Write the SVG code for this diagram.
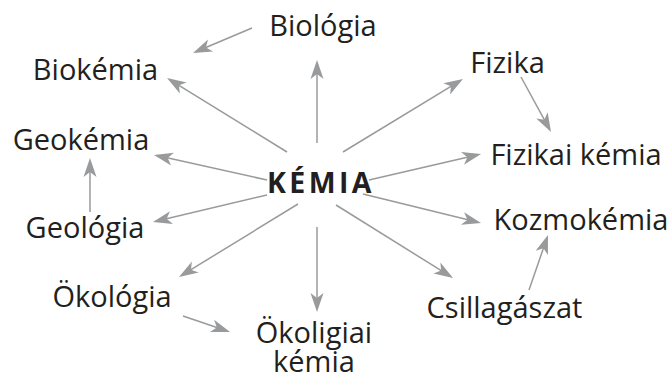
<svg xmlns="http://www.w3.org/2000/svg" width="672" height="380" viewBox="0 0 672 380">
<defs>
<marker id="ah" markerUnits="userSpaceOnUse" viewBox="-22 -8 24 16" markerWidth="24" markerHeight="16" refX="-3" refY="0" orient="auto">
<path d="M0,0 L-19,-6.5 L-14,0 L-19,6.5 Z" fill="#999a9c"/>
</marker>
<style>
.t{font-family:"Open Sans","Noto Sans","Liberation Sans",sans-serif;font-size:29px;fill:#231f20;text-anchor:middle}
.k{font-family:"Open Sans","Noto Sans","Liberation Sans",sans-serif;font-size:28.5px;font-weight:bold;fill:#231f20;letter-spacing:3.4px}
.c line{stroke:#999a9c;stroke-width:1.5;fill:none;marker-end:url(#ah)}
</style>
</defs>
<rect width="672" height="380" fill="#ffffff"/>
<g id="connectors" class="c">
<line x1="317" y1="143" x2="317" y2="63"/>
<line x1="252" y1="28" x2="195.8" y2="51.8"/>
<line x1="287" y1="152" x2="169.6" y2="79.6"/>
<line x1="267" y1="180" x2="156.9" y2="155.6"/>
<line x1="90" y1="212" x2="90" y2="161"/>
<line x1="267" y1="195" x2="155.9" y2="221.3"/>
<line x1="298" y1="204" x2="181.6" y2="275.4"/>
<line x1="317" y1="227" x2="317" y2="309"/>
<line x1="183" y1="316" x2="227.2" y2="331"/>
<line x1="343" y1="152" x2="460.4" y2="80.6"/>
<line x1="521" y1="77" x2="549.6" y2="129.4"/>
<line x1="369" y1="180" x2="478.1" y2="154.7"/>
<line x1="363" y1="194" x2="478.1" y2="222.3"/>
<line x1="336" y1="205" x2="450.5" y2="276.4"/>
<line x1="529" y1="290" x2="547" y2="237.8"/>
</g>
<g id="kemia"><text class="k" x="267" y="193">KÉMIA</text></g>
<g id="biologia"><text class="t" x="323" y="36">Biológia</text></g>
<g id="biokemia"><text class="t" x="95.5" y="80">Biokémia</text></g>
<g id="geokemia"><text class="t" x="81" y="150">Geokémia</text></g>
<g id="geologia"><text class="t" x="85" y="238">Geológia</text></g>
<g id="okologia"><text class="t" x="112" y="307">Ökológia</text></g>
<g id="okologiai-kemia"><text class="t" x="314" y="343">Ökoligiai</text><text class="t" x="314" y="372">kémia</text></g>
<g id="csillagaszat"><text class="t" x="504.5" y="318">Csillagászat</text></g>
<g id="kozmokemia"><text class="t" x="581" y="230">Kozmokémia</text></g>
<g id="fizikai-kemia"><text class="t" x="576" y="165">Fizikai kémia</text></g>
<g id="fizika"><text class="t" x="507.5" y="73">Fizika</text></g>
</svg>
